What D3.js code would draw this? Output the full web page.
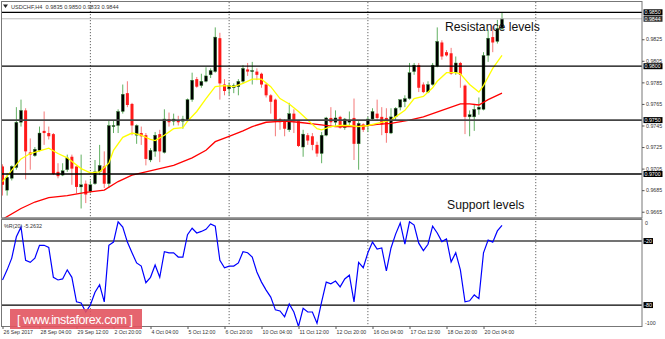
<!DOCTYPE html>
<html>
<head>
<meta charset="utf-8">
<script src="https://cdn.jsdelivr.net/npm/d3@7"></script>
<style>
  body { margin: 0; background: #fff; }
  svg { display: block; font-family: "Liberation Sans", Arial, sans-serif; }
</style>
</head>
<body>
<svg id="chart" width="665" height="339"></svg>
<script>
// USDCHF H4 candles, 26 Sep 2017 20:00 .. 20 Oct 2017 20:00
const opens = [0.9707,0.9685,0.9696,0.9706,0.9748,0.9759,0.9720,0.9717,0.9722,0.9740,
  0.9738,0.9737,0.9702,0.9699,0.9704,0.9716,0.9707,0.9688,0.9691,0.9684,
  0.9691,0.9702,0.9707,0.9691,0.9744,0.9745,0.9758,0.9775,0.9765,0.9736,
  0.9738,0.9736,0.9713,0.9721,0.9737,0.9720,0.9751,0.9749,0.9750,0.9749,
  0.9750,0.9769,0.9788,0.9782,0.9786,0.9792,0.9795,0.9826,0.9783,0.9779,
  0.9780,0.9781,0.9786,0.9797,0.9795,0.9795,0.9793,0.9783,0.9773,0.9769,
  0.9751,0.9749,0.9741,0.9756,0.9749,0.9725,0.9736,0.9735,0.9727,0.9719,
  0.9736,0.9752,0.9748,0.9753,0.9743,0.9748,0.9752,0.9728,0.9746,0.9745,
  0.9751,0.9756,0.9753,0.9752,0.9738,0.9753,0.9762,0.9767,0.9770,0.9795,
  0.9801,0.9783,0.9776,0.9783,0.9800,0.9822,0.9813,0.9812,0.9794,0.9803,
  0.9782,0.9753,0.9753,0.9760,0.9760,0.9810,0.9827,0.9823,0.9835];
const highs = [0.9709,0.9701,0.9708,0.9762,0.9769,0.9761,0.9733,0.9725,0.9744,0.9758,
  0.9744,0.9738,0.9710,0.9710,0.9718,0.9718,0.9707,0.9718,0.9694,0.9694,
  0.9713,0.9727,0.9721,0.9750,0.9750,0.9760,0.9783,0.9786,0.9766,0.9746,
  0.9744,0.9738,0.9724,0.9739,0.9741,0.9760,0.9757,0.9756,0.9754,0.9754,
  0.9770,0.9794,0.9790,0.9793,0.9799,0.9798,0.9836,0.9831,0.9788,0.9785,
  0.9784,0.9788,0.9801,0.9803,0.9804,0.9798,0.9794,0.9784,0.9774,0.9770,
  0.9752,0.9751,0.9766,0.9760,0.9750,0.9741,0.9738,0.9738,0.9730,0.9739,
  0.9753,0.9762,0.9759,0.9754,0.9752,0.9758,0.9770,0.9749,0.9747,0.9753,
  0.9761,0.9769,0.9762,0.9761,0.9761,0.9762,0.9769,0.9773,0.9803,0.9803,
  0.9803,0.9785,0.9786,0.9803,0.9836,0.9824,0.9815,0.9817,0.9809,0.9804,
  0.9783,0.9759,0.9765,0.9771,0.9813,0.9834,0.9837,0.9843,0.9850];
const lows = [0.9680,0.9680,0.9694,0.9704,0.9744,0.9695,0.9704,0.9716,0.9721,0.9727,
  0.9732,0.9699,0.9696,0.9698,0.9702,0.9690,0.9682,0.9668,0.9673,0.9682,
  0.9690,0.9699,0.9687,0.9687,0.9738,0.9738,0.9756,0.9762,0.9736,0.9728,
  0.9727,0.9708,0.9711,0.9716,0.9711,0.9719,0.9744,0.9745,0.9745,0.9742,
  0.9749,0.9767,0.9780,0.9780,0.9785,0.9789,0.9794,0.9769,0.9773,0.9773,
  0.9775,0.9773,0.9784,0.9791,0.9783,0.9787,0.9780,0.9771,0.9756,0.9735,
  0.9741,0.9735,0.9739,0.9738,0.9725,0.9716,0.9727,0.9722,0.9716,0.9710,
  0.9735,0.9743,0.9744,0.9742,0.9741,0.9745,0.9713,0.9704,0.9739,0.9739,
  0.9750,0.9750,0.9736,0.9729,0.9737,0.9750,0.9759,0.9762,0.9769,0.9792,
  0.9776,0.9775,0.9775,0.9782,0.9799,0.9806,0.9809,0.9792,0.9792,0.9780,
  0.9737,0.9735,0.9740,0.9755,0.9759,0.9804,0.9813,0.9821,0.9833];
const closes = [0.9690,0.9697,0.9707,0.9748,0.9759,0.9721,0.9718,0.9723,0.9738,0.9738,
  0.9735,0.9700,0.9698,0.9703,0.9715,0.9705,0.9688,0.9690,0.9681,0.9690,
  0.9702,0.9708,0.9691,0.9745,0.9745,0.9758,0.9774,0.9764,0.9745,0.9745,
  0.9735,0.9714,0.9722,0.9736,0.9721,0.9751,0.9748,0.9751,0.9748,0.9751,
  0.9769,0.9787,0.9781,0.9786,0.9791,0.9796,0.9827,0.9784,0.9777,0.9782,
  0.9782,0.9786,0.9798,0.9795,0.9796,0.9792,0.9783,0.9773,0.9767,0.9749,
  0.9748,0.9742,0.9756,0.9749,0.9726,0.9737,0.9731,0.9727,0.9719,0.9736,
  0.9752,0.9748,0.9752,0.9743,0.9751,0.9750,0.9728,0.9747,0.9741,0.9751,
  0.9758,0.9752,0.9746,0.9738,0.9753,0.9761,0.9769,0.9770,0.9794,0.9801,
  0.9780,0.9776,0.9783,0.9801,0.9823,0.9809,0.9810,0.9793,0.9803,0.9792,
  0.9753,0.9755,0.9760,0.9762,0.9810,0.9826,0.9822,0.9835,0.9844];

// moving averages (bar index, value)
const fastMaBars = [0,4,6,10,12,14,17,19,21,23,24,26,28,30,32,33,35,37,39,40,42,44,46,48,50,52,54,56,58,60,62,64,66,68,69,71,73,75,77,79,81,84,87,89,91,93,94,96,98,99,101,103,104,105,106,107,108];
const fastMaVals = [0.9693,0.9714,0.9719,0.9724,0.9719,0.9715,0.9705,0.9701,0.9702,0.9710,0.9722,0.9734,0.9738,0.9736,0.9732,0.9731,0.9736,0.9742,0.9743,0.9749,0.9758,0.9770,0.9781,0.9782,0.9781,0.9784,0.9788,0.9788,0.9781,0.9770,0.9765,0.9758,0.9750,0.9742,0.9741,0.9744,0.9745,0.9745,0.9744,0.9745,0.9747,0.9750,0.9759,0.9770,0.9772,0.9780,0.9786,0.9794,0.9794,0.9793,0.9783,0.9776,0.9782,0.9790,0.9798,0.9804,0.9810];
const slowMaBars = [0,4,7,10,14,18,22,25,28,31,34,37,41,44,46,49,52,54,57,61,64,68,72,76,79,81,84,88,91,95,99,101,103,105,108];
const slowMaVals = [0.9658,0.9668,0.9674,0.9678,0.9680,0.9683,0.9685,0.9693,0.9699,0.9702,0.9705,0.9708,0.9715,0.9722,0.9730,0.9735,0.9740,0.9744,0.9748,0.9749,0.9748,0.9746,0.9744,0.9744,0.9745,0.9746,0.9747,0.9750,0.9753,0.9759,0.9765,0.9765,0.9764,0.9769,0.9775];

// Williams %R(20), one value per bar
const wprVals = [-56.5,-47,-36,-16,-7,-38,-40,-36,-24,-24,
  -26,-54,-56.5,-55.5,-47,-54,-77,-78,-86.5,-80,
  -68,-61,-77,-24,-21,-2,-7,-21,-31,-40.5,
  -43.5,-59,-54,-42.5,-54,-30,-31,-31,-35,-35,
  -14,-8,-12.5,-11,-9,-4,-6,-38,-45,-43.5,
  -43.5,-40.5,-30,-31,-35,-49,-58.5,-66,-72.5,-84.5,
  -85.5,-91,-79,-86.5,-100,-83,-86.5,-86.5,-97,-77,
  -58.5,-60,-57.5,-63,-55.5,-52,-77,-40,-45,-31,
  -21,-27.5,-26.5,-48,-26.5,-13.5,-3,-23,-2,-5,
  -22,-29,-23,-6,-12.5,-20.5,-18,-39.5,-31,-47,
  -77,-76,-70.5,-74,-31,-19,-21,-10.5,-5.2632];

const priceLevels = [0.9850, 0.9800, 0.9750, 0.9700];
const bidPrice = 0.9844;
const priceTicks = [0.9665,0.9685,0.9705,0.9725,0.9745,0.9765,0.9785,0.9805,0.9825];
const wprLevels = [-20, -80];
const separatorBars = [19, 49, 79, 115.3];
const xLabelBars = [0,8,16,24,32,40,48,56,64,72,80,88,96,104];
const xLabels = ['26 Sep 2017','28 Sep 04:00','29 Sep 12:00','2 Oct 20:00','4 Oct 04:00','5 Oct 12:00',
  '6 Oct 20:00','10 Oct 04:00','11 Oct 12:00','12 Oct 20:00','16 Oct 04:00','17 Oct 12:00',
  '18 Oct 20:00','20 Oct 04:00'];

const svg = d3.select('#chart');
const left = 2, right = 642, mainTop = 2, mainBottom = 218, wTop = 219.5, wBottom = 326.5;

const x = d3.scaleLinear().domain([0, 108]).range([2.5, 502]);
const y = d3.scaleLinear().domain([0.9700, 0.9850]).range([174, 12.3]);
const yW = d3.scaleLinear().domain([-100, 0]).range([326.4, 219.7]);

const defs = svg.append('defs');
defs.append('clipPath').attr('id', 'clipMain')
  .append('rect').attr('x', left).attr('y', mainTop).attr('width', right - left).attr('height', mainBottom - mainTop);
defs.append('clipPath').attr('id', 'clipW')
  .append('rect').attr('x', left).attr('y', wTop).attr('width', right - left).attr('height', wBottom - wTop);

// period separators
svg.selectAll('.sep').data(separatorBars).join('line')
  .attr('x1', d => x(d)).attr('x2', d => x(d))
  .attr('y1', mainTop).attr('y2', wBottom)
  .attr('stroke', '#555').attr('stroke-dasharray', '1.2,1.8').attr('stroke-width', 0.9);

// candles
const main = svg.append('g').attr('clip-path', 'url(#clipMain)');
const candles = d3.range(opens.length).map(i => ({
  i, o: opens[i], h: highs[i], l: lows[i], c: closes[i], up: closes[i] >= opens[i]
}));
main.selectAll('.wick').data(candles).join('line')
  .attr('x1', d => x(d.i)).attr('x2', d => x(d.i))
  .attr('y1', d => y(d.h)).attr('y2', d => y(d.l))
  .attr('stroke', d => d.up ? '#62b062' : '#f47878').attr('stroke-width', 1);
main.selectAll('.body').data(candles).join('rect')
  .attr('x', d => x(d.i) - 1.5).attr('width', 3)
  .attr('y', d => y(Math.max(d.o, d.c)))
  .attr('height', d => Math.max(1, Math.abs(y(d.o) - y(d.c))))
  .attr('fill', d => d.up ? '#000' : '#ff1a1a')
  .attr('stroke', d => d.up ? '#3c8f3c' : 'none').attr('stroke-width', 0.4);

// moving averages
const maLine = d3.line().x(d => x(d[0])).y(d => y(d[1]));
main.append('path').datum(d3.zip(slowMaBars, slowMaVals))
  .attr('d', maLine).attr('fill', 'none').attr('stroke', '#ff0000').attr('stroke-width', 1.3);
main.append('path').datum(d3.zip(fastMaBars, fastMaVals))
  .attr('d', maLine).attr('fill', 'none').attr('stroke', '#ffff00').attr('stroke-width', 1.3);

// bid line and levels
svg.append('line').attr('x1', left).attr('x2', right).attr('y1', y(bidPrice)).attr('y2', y(bidPrice))
  .attr('stroke', '#bbb').attr('stroke-width', 1);
svg.selectAll('.lvl').data(priceLevels).join('line')
  .attr('x1', left).attr('x2', right).attr('y1', d => y(d)).attr('y2', d => y(d))
  .attr('stroke', d => d === 0.9750 ? '#444' : '#000').attr('stroke-width', d => d === 0.9750 ? 1.6 : 1.3);

// %R panel
const wp = svg.append('g').attr('clip-path', 'url(#clipW)');
wp.selectAll('.wl').data(wprLevels).join('line')
  .attr('x1', left).attr('x2', right).attr('y1', d => yW(d)).attr('y2', d => yW(d))
  .attr('stroke', d => d === -20 ? '#444' : '#000').attr('stroke-width', d => d === -20 ? 1.5 : 1.2);
wp.append('path').datum(wprVals)
  .attr('d', d3.line().x((d, i) => x(i)).y(d => yW(d)))
  .attr('fill', 'none').attr('stroke', '#0000ff').attr('stroke-width', 1.2);

// frames
svg.append('rect').attr('x', 1.5).attr('y', 1.5).attr('width', right - 1.5).attr('height', mainBottom - 1.5)
  .attr('fill', 'none').attr('stroke', '#777').attr('stroke-width', 1);
svg.append('line').attr('x1', 1.5).attr('x2', right).attr('y1', 218.5).attr('y2', 218.5)
  .attr('stroke', '#888').attr('stroke-width', 2);
svg.append('rect').attr('x', 1.5).attr('y', wTop).attr('width', right - 1.5).attr('height', wBottom - wTop)
  .attr('fill', 'none').attr('stroke', '#777').attr('stroke-width', 1);

// price axis
const axMain = svg.append('g').attr('transform', `translate(${right},0)`)
  .call(d3.axisRight(y).tickValues(priceTicks).tickSize(2.5).tickPadding(1.5).tickFormat(d3.format('.4f')));
axMain.select('.domain').remove();
axMain.selectAll('text').attr('font-size', 5.3).attr('fill', '#333').attr('font-family', '"Liberation Sans", Arial');
axMain.selectAll('line').attr('stroke', '#555');

// highlighted price labels
const tags = priceLevels.concat([bidPrice]);
svg.selectAll('.tag').data(tags).join('rect')
  .attr('x', right + 1.5).attr('y', d => y(d) - 3).attr('width', 19).attr('height', 6)
  .attr('fill', d => d === bidPrice ? '#333' : '#000');
svg.selectAll('.tagt').data(tags).join('text')
  .attr('x', right + 2.5).attr('y', d => y(d) + 2)
  .attr('font-size', 5.3).attr('fill', '#fff').text(d => d3.format('.4f')(d));

// %R axis labels
svg.selectAll('.wtag').data(wprLevels).join('rect')
  .attr('x', right + 1.5).attr('y', d => yW(d) - 3).attr('width', 9.5).attr('height', 6).attr('fill', '#000');
svg.selectAll('.wtagt').data(wprLevels).join('text')
  .attr('x', right + 2.3).attr('y', d => yW(d) + 2)
  .attr('font-size', 5.3).attr('fill', '#fff').text(d => d);
svg.append('text').attr('x', right + 3).attr('y', yW(0) + 5).attr('font-size', 5.3).attr('fill', '#333').text('0');
svg.append('text').attr('x', right + 3).attr('y', yW(-100) - 1.5).attr('font-size', 5.3).attr('fill', '#333').text('-100');

// time axis
const axTime = svg.append('g').attr('transform', `translate(0,${wBottom})`)
  .call(d3.axisBottom(x).tickValues(xLabelBars).tickSize(2.5).tickPadding(1.5)
    .tickFormat((d, i) => xLabels[i]));
axTime.select('.domain').remove();
axTime.selectAll('line').attr('stroke', '#555');
axTime.selectAll('text').attr('font-size', 5.2).attr('fill', '#333').attr('text-anchor', 'start')
  .attr('dx', 0.5).attr('font-family', '"Liberation Sans", Arial');

// headers
svg.append('path').attr('d', 'M3,4.5 L8,4.5 L5.5,8 Z').attr('fill', '#222');
svg.append('text').attr('x', 11).attr('y', 8.6).attr('font-size', 5.6).attr('fill', '#333')
  .attr('xml:space', 'preserve')
  .text('USDCHF,H4  0.9835 0.9850 0.9833 0.9844');
svg.append('text').attr('x', 4).attr('y', 227.5).attr('font-size', 5.4).attr('fill', '#333')
  .text('%R(20) -5.2632');

// annotations
svg.append('text').attr('x', 445).attr('y', 30.5).attr('font-size', 12.2).attr('fill', '#111').text('Resistance levels');
svg.append('text').attr('x', 447).attr('y', 209).attr('font-size', 12.2).attr('fill', '#111').text('Support levels');

// watermark
svg.append('rect').attr('x', 10).attr('y', 309).attr('width', 132).attr('height', 20)
  .attr('fill', '#e2545f').attr('opacity', 0.9);
svg.append('text').attr('x', 17).attr('y', 323.5).attr('font-size', 12.5).attr('fill', '#fff')
  .attr('textLength', 116).attr('lengthAdjust', 'spacing')
  .text('[ www.instaforex.com ]');
</script>
</body>
</html>
